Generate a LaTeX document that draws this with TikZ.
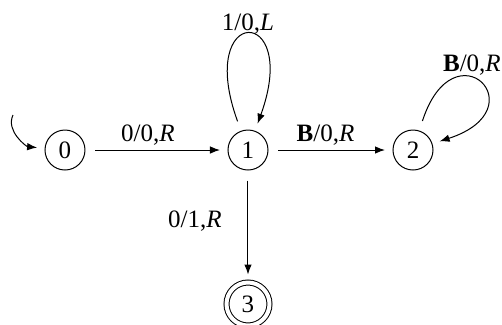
\documentclass[tikz,border=0pt]{standalone}
\usepackage{fontspec}
\setmainfont{Liberation Serif}
\usetikzlibrary{arrows.meta,positioning}

\begin{document}
\begin{tikzpicture}[
    on grid,
    estado/.style={circle, draw, minimum size=16pt, inner sep=0pt},
    final/.style={estado, minimum size=17.2pt, double, double distance=1.6pt},
    arrow/.style={-{Latex[length=4pt,width=3pt]}, shorten <=4pt, shorten >=3pt},
    rotulo/.style={inner sep=1.5pt}
]
    \useasboundingbox (-99.2pt,-69.6pt) rectangle (101.6pt,60pt);

    \node (q1) [estado] {1};
    \node (q0) [estado, left=73.2pt of q1] {0};
    \node (q2) [estado, right=66pt of q1] {2};
    \node (q3) [final, below=61.6pt of q1] {3};
    \coordinate (ini) at ([xshift=-20.8pt, yshift=14pt]q0.center);

    % estado inicial
    \draw [arrow, shorten <=0pt] (ini) to[out=-115, in=175] (q0);

    \draw [arrow] (q0) -- node[above, pos=0.44, rotulo] {0/0,\textit{R}} (q1);
    \draw [arrow] (q1) -- node[above, pos=0.46, rotulo] {\textbf{B}/0,\textit{R}} (q2);
    \draw [arrow] (q1) -- node[left=7pt, pos=0.45] {0/1,\textit{R}} (q3);

    % lacos
    \draw [arrow] (q1) to[out=110, in=70, min distance=54pt] node[above, inner sep=0.5pt] {1/0,\textit{L}} (q1);
    \draw [arrow] (q2) to[out=72, in=18, min distance=45pt] node[above, pos=0.42, rotulo] {\textbf{B}/0,\textit{R}} (q2);
\end{tikzpicture}
\end{document}
